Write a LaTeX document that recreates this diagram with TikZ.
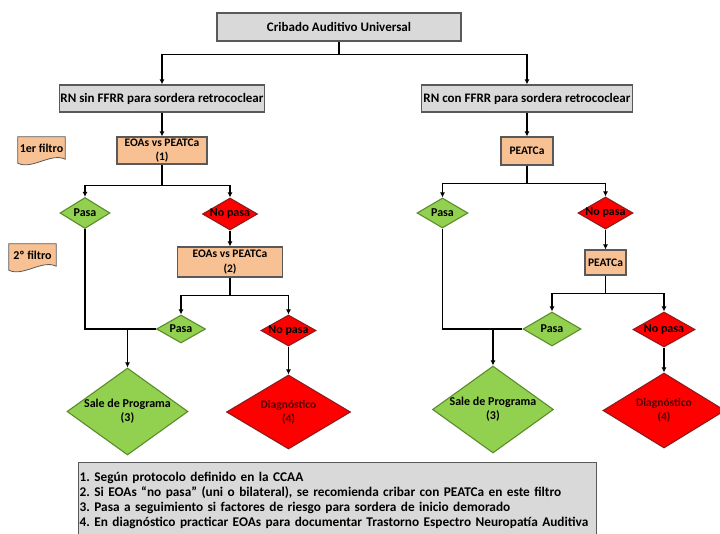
\documentclass[tikz,border=0pt]{standalone}
\usepackage{fontspec}
\setmainfont{Carlito}
\usetikzlibrary{shapes.geometric, arrows.meta, backgrounds}
\definecolor{boxgray}{HTML}{D9D9D9}
\definecolor{edgegray}{HTML}{595959}
\definecolor{peach}{HTML}{F8C193}
\definecolor{passgreen}{HTML}{92D050}
\definecolor{passedge}{HTML}{5B8C2A}
\definecolor{failred}{HTML}{FF0000}
\definecolor{failedge}{HTML}{8C1C1C}
\definecolor{diagtext}{HTML}{4A0000}
\tikzset{
  every node/.style={font=\fontsize{12}{14}\selectfont\bfseries},
  greybox/.style={draw=edgegray, fill=boxgray, line width=1.3pt, inner sep=1pt, minimum height=27pt,
    font=\fontsize{13}{15}\selectfont\bfseries},
  testbox/.style={draw=edgegray, fill=peach, line width=1.1pt, inner sep=1pt, align=center,
    font=\fontsize{11.5}{13.5}\selectfont\bfseries},
  tagnode/.style={inner sep=1pt, minimum width=47pt, minimum height=22pt},
  tagshape/.style={draw=edgegray, fill=peach, line width=0.8pt},
  notebox/.style={draw=edgegray, fill=boxgray, line width=1.3pt, inner xsep=1pt, inner ysep=9pt,
    align=left, font=\fontsize{13.3}{15}\selectfont\bfseries\frenchspacing},
  decision/.style={diamond, inner sep=-6pt, line width=1.1pt, align=center},
  dims/.style 2 args={minimum width=#1pt, minimum height=#2pt},
  pass/.style={decision, draw=passedge, fill=passgreen},
  fail/.style={decision, draw=failedge, fill=failred},
  link/.style={draw=black, line width=1.3pt},
  arr/.style={link, -{Latex[length=5pt,width=5pt]}},
}
\begin{document}
\begin{tikzpicture}[x=1pt, y=-1pt]
  \useasboundingbox (0,0) rectangle (720,533);
  % top level
  \node[greybox, minimum width=244pt, minimum height=28pt] (cribado) at (339,27) {Cribado Auditivo Universal};
  \node[greybox, minimum width=204pt] (sinFR) at (162,98.5) {RN sin FFRR para sordera retrococlear};
  \node[greybox, minimum width=211pt] (conFR) at (527,98.5) {RN con FFRR para sordera retrococlear};
  \draw[arr] (cribado.south) -- ++(0,13) -| (sinFR.north);
  \draw[arr] (cribado.south) -- ++(0,13) -| (conFR.north);

  % filter tags
  \node[tagnode] (filtro1) at (41.5,148) {1er filtro};
  \node[tagnode] (filtro2) at (32.5,255) {2º filtro};
  \begin{scope}[on background layer]
    \foreach \f in {filtro1, filtro2}
      \path[tagshape] (\f.north west) -- (\f.north east) -- (\f.south east)
        .. controls +(-14,-7) and +(14,7) .. ([yshift=-4pt]\f.south west) -- cycle;
  \end{scope}

  % left branch: without risk factors
  \node[testbox, dims={90}{27}] (eoaA) at (162,150.5) {EOAs vs PEATCa\\(1)};
  \draw[arr] (sinFR) -- (eoaA);
  \node[pass, dims={50}{31}] (pasaA) at (85,213) {Pasa};
  \node[fail, dims={55}{32}] (nopasaA) at (230,214) {No pasa};
  \draw[arr] (eoaA.south) -- ++(0,21) -| (pasaA.north);
  \draw[arr] (eoaA.south) -- ++(0,21) -| (nopasaA.north);
  \node[testbox, dims={105}{30}, font=\fontsize{11.5}{14.5}\selectfont\bfseries] (eoaB) at (230,262) {EOAs vs PEATCa\\(2)};
  \draw[arr] (nopasaA) -- (eoaB);
  \node[pass, dims={49}{28}] (pasaB) at (181,329) {Pasa};
  \node[fail, dims={55}{31}] (nopasaB) at (288.5,330.5) {No pasa};
  \draw[arr] (eoaB.south) -- ++(0,18) -| (pasaB.north);
  \draw[arr] (eoaB.south) -- ++(0,18) -| (nopasaB.north);
  \node[pass, dims={121}{73}] (saleA) at (127.5,411.5) {Sale de Programa\\(3)};
  \node[fail, dims={124}{74}, text=diagtext, font=\fontsize{11.5}{14}\selectfont\bfseries] (diagA) at (288.5,412) {Diagnóstico\\(4)};
  \coordinate (joinA) at (saleA.north |- pasaB.west);
  \draw[link] (pasaA.south) |- (pasaB.west);
  \draw[arr] (joinA) -- (saleA.north);
  \draw[arr] (nopasaB) -- (diagA);

  % right branch: with risk factors
  \node[testbox, dims={52}{28}] (peatA) at (527,151) {PEATCa};
  \draw[arr] (conFR) -- (peatA);
  \node[pass, dims={51}{30}] (pasaC) at (442.5,213) {Pasa};
  \node[fail, dims={55}{32}] (nopasaC) at (605.5,213) {No pasa};
  \draw[arr] (peatA.south) -- ++(0,18) -| (pasaC.north);
  \draw[arr] (peatA.south) -- ++(0,18) -| (nopasaC.north);
  \node[testbox, dims={41}{25}] (peatB) at (605.5,262.5) {PEATCa};
  \draw[arr] (nopasaC) -- (peatB);
  \node[pass, dims={58}{34}] (pasaD) at (552,329) {Pasa};
  \node[fail, dims={62}{35}] (nopasaD) at (664,329.5) {No pasa};
  \draw[arr] (peatB.south) -- ++(0,18) -| (pasaD.north);
  \draw[arr] (peatB.south) -- ++(0,18) -| (nopasaD.north);
  \node[pass, dims={121}{73}] (saleC) at (493,409.5) {Sale de Programa\\(3)};
  \node[fail, dims={122}{75}, text=diagtext, font=\fontsize{11.5}{14}\selectfont\bfseries] (diagC) at (664,410.5) {Diagnóstico\\(4)};
  \coordinate (joinC) at (saleC.north |- pasaD.west);
  \draw[link] (pasaC.south) |- (pasaD.west);
  \draw[arr] (joinC) -- (saleC.north);
  \draw[arr] (nopasaD) -- (diagC);

  % notes
  \node[notebox, anchor=north west, text width=516pt] (notas) at (78,462) {1. Según protocolo definido en la CCAA\\
    2. Si EOAs “no pasa” (uni o bilateral), se recomienda cribar con PEATCa en este filtro\\
    3. Pasa a seguimiento si factores de riesgo para sordera de inicio demorado\\
    4. En diagnóstico practicar EOAs para documentar Trastorno Espectro Neuropatía Auditiva};
\end{tikzpicture}
\end{document}
